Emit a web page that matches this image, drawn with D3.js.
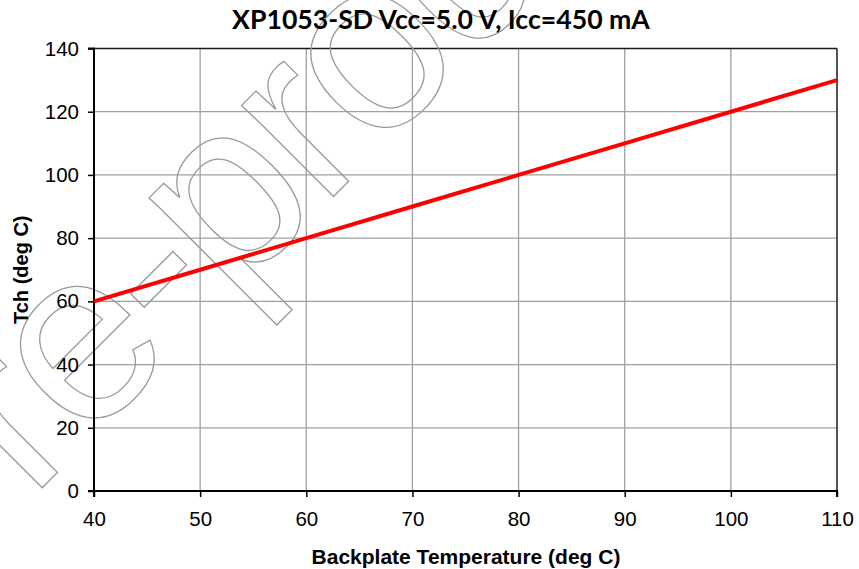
<!DOCTYPE html>
<html>
<head>
<meta charset="utf-8">
<script src="https://cdn.jsdelivr.net/npm/d3@7"></script>
<style>
  html, body { margin: 0; padding: 0; background: #fff; }
  svg { display: block; }
</style>
</head>
<body>
<svg id="chart" width="859" height="569"></svg>
<script>
// ---- data ----
const backplateTemp = [40, 50, 60, 70, 80, 90, 100, 110];
const tchValues     = [60, 70, 80, 90, 100, 110, 120, 130];
const xTicks = [40, 50, 60, 70, 80, 90, 100, 110];
const yTicks = [0, 20, 40, 60, 80, 100, 120, 140];
const titleText = "XP1053-SD Vcc=5.0 V, Icc=450 mA";
const xTitle = "Backplate Temperature (deg C)";
const yTitle = "Tch (deg C)";
const watermark = "Pre-production";

// ---- layout ----
const W = 859, H = 569;
const plot = { left: 94, right: 837, top: 48.5, bottom: 491 };

const svg = d3.select("#chart");
svg.append("rect").attr("width", W).attr("height", H).attr("fill", "#fff");

const x = d3.scaleLinear().domain([40, 110]).range([plot.left, plot.right]);
const y = d3.scaleLinear().domain([0, 140]).range([plot.bottom, plot.top]);

// gridlines
const grid = svg.append("g");
grid.selectAll("line.v").data(xTicks.slice(1, -1)).join("line")
  .attr("x1", d => x(d)).attr("x2", d => x(d))
  .attr("y1", plot.top).attr("y2", plot.bottom)
  .attr("stroke", "#a0a0a0").attr("stroke-width", 1.3);
grid.selectAll("line.h").data(yTicks.slice(1, -1)).join("line")
  .attr("x1", plot.left).attr("x2", plot.right)
  .attr("y1", d => y(d)).attr("y2", d => y(d))
  .attr("stroke", "#a0a0a0").attr("stroke-width", 1.3);

// frame top/right
svg.append("line").attr("x1", plot.left).attr("x2", plot.right)
  .attr("y1", plot.top).attr("y2", plot.top).attr("stroke", "#1a1a1a").attr("stroke-width", 1.5);
svg.append("line").attr("x1", plot.right).attr("x2", plot.right)
  .attr("y1", plot.top).attr("y2", plot.bottom).attr("stroke", "#1a1a1a").attr("stroke-width", 1.5);

// watermark (outlined)
svg.append("text")
  .attr("transform", "translate(-81,611) rotate(-45)")
  .attr("font-family", "'Liberation Sans', Arial, sans-serif")
  .attr("font-size", 245)
  .attr("letter-spacing", -6)
  .attr("fill", "none")
  .attr("stroke", "#9a9a9a")
  .attr("stroke-width", 1.3)
  .text(watermark);

// axes
const xAxis = d3.axisBottom(x).tickValues(xTicks).tickSize(6).tickPadding(14).tickFormat(d3.format("d"));
const yAxis = d3.axisLeft(y).tickValues(yTicks).tickSize(6).tickPadding(9).tickFormat(d3.format("d"));

const gx = svg.append("g").attr("transform", `translate(0,${plot.bottom})`).call(xAxis);
const gy = svg.append("g").attr("transform", `translate(${plot.left},0)`).call(yAxis);

[gx, gy].forEach(g => {
  g.select(".domain").attr("stroke", "#000").attr("stroke-width", 2);
  g.selectAll(".tick line").attr("stroke", "#000").attr("stroke-width", 1.5);
  g.selectAll(".tick text")
    .attr("font-family", "'Liberation Sans', Arial, sans-serif")
    .attr("font-size", 20.5)
    .attr("fill", "#000");
});
gx.select(".domain").attr("d", `M${plot.left},6V0H${plot.right}V6`);
gy.select(".domain").attr("d", `M-6,${plot.bottom}H0V${plot.top}H-6`);

// series line
const line = d3.line().x((d, i) => x(backplateTemp[i])).y(d => y(d));
svg.append("path")
  .datum(tchValues)
  .attr("d", line)
  .attr("fill", "none")
  .attr("stroke", "#ff0000")
  .attr("stroke-width", 4);

// titles
const t = svg.append("text")
  .attr("x", 441).attr("y", 28.5)
  .attr("text-anchor", "middle")
  .attr("font-family", "Lato, 'Open Sans', sans-serif")
  .attr("font-weight", "bold")
  .attr("font-size", 21)
  .attr("fill", "#000")
  .text(titleText);
const tw = t.node().getComputedTextLength();
if (tw > 0) t.attr("font-size", 21 * 418 / tw);

svg.append("text")
  .attr("x", 466).attr("y", 563.5)
  .attr("text-anchor", "middle")
  .attr("font-family", "'Liberation Sans', Arial, sans-serif")
  .attr("font-weight", "bold")
  .attr("font-size", 21)
  .attr("fill", "#000")
  .text(xTitle);

svg.append("text")
  .attr("transform", `translate(27.5,${(plot.top + plot.bottom) / 2}) rotate(-90)`)
  .attr("text-anchor", "middle")
  .attr("font-family", "'Liberation Sans', Arial, sans-serif")
  .attr("font-weight", "bold")
  .attr("font-size", 20)
  .attr("fill", "#000")
  .text(yTitle);
</script>
</body>
</html>
